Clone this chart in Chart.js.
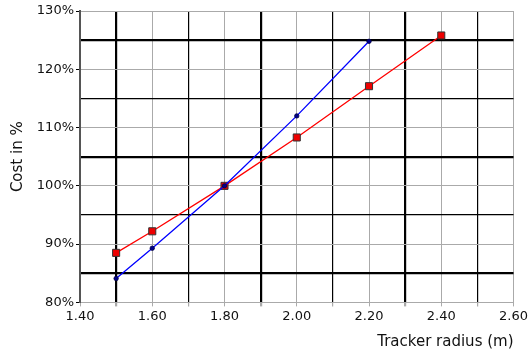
<!DOCTYPE html>
<html>
<head>
<meta charset="utf-8">
<script src="https://cdn.jsdelivr.net/npm/chart.js@4"></script>
<style>
  html, body { margin: 0; padding: 0; background: #fff; }
  #wrap { width: 530px; height: 352px; position: relative; }
</style>
</head>
<body>
<div id="wrap"><canvas id="chart"></canvas></div>
<script>
// data
const radius   = [1.5, 1.6, 1.8, 2.0, 2.2, 2.4];
const costRed  = [88.5, 92.2, 100, 108.3, 117.1, 125.8];
const radiusBlue = [1.5, 1.6, 1.8, 2.0, 2.2];
const costBlue = [84.1, 89.3, 100, 112.0, 124.8];

const FONT = 'DejaVu Sans';

// grid style: gray on labelled ticks, black in between, every other black one thicker
function gridColor(ctx) { return ctx.index % 2 ? '#000' : '#aaa'; }
function gridWidth(ctx) { return ctx.index % 4 === 1 ? 2.2 : (ctx.index % 2 ? 1.2 : 1); }
function tickColor(ctx) { return ctx.index % 2 ? 'rgba(0,0,0,0)' : '#000'; }

new Chart(document.getElementById('chart').getContext('2d'), {
  type: 'line',
  data: {
    datasets: [
      {
        data: radiusBlue.map((x, i) => ({ x, y: costBlue[i] })),
        borderColor: '#0000ff', borderWidth: 1.3,
        pointStyle: 'circle', pointRadius: 2.2,
        pointBackgroundColor: '#00008b', pointBorderColor: '#000040', pointBorderWidth: 0.8,
        tension: 0
      },
      {
        data: radius.map((x, i) => ({ x, y: costRed[i] })),
        borderColor: '#ff0000', borderWidth: 1.3,
        pointStyle: 'rect', pointRadius: 5,
        pointBackgroundColor: '#ee0000', pointBorderColor: '#333', pointBorderWidth: 1,
        tension: 0
      }
    ]
  },
  options: {
    responsive: true, maintainAspectRatio: false, animation: false,
    layout: { padding: { top: 11, right: 12, left: 9, bottom: 1 } },
    plugins: { legend: { display: false }, tooltip: { enabled: false } },
    scales: {
      x: {
        type: 'linear', min: 1.4, max: 2.6,
        ticks: {
          stepSize: 0.1, color: '#111', font: { family: FONT, size: 13 }, padding: 2,
          maxRotation: 0, autoSkip: false,
          callback: (v, i) => i % 2 ? '' : v.toFixed(2)
        },
        grid: { color: gridColor, lineWidth: gridWidth, tickColor: '#aaa', tickLength: 4 },
        border: { display: true, color: '#aaa', width: 1 },
        title: {
          display: true, text: 'Tracker radius (m)', align: 'end', color: '#111',
          font: { family: FONT, size: 15 }, padding: { top: 7, bottom: 0 }
        }
      },
      y: {
        min: 80, max: 130,
        ticks: {
          stepSize: 5, color: '#111', font: { family: FONT, size: 13 }, padding: 2,
          callback: (v, i) => i % 2 ? '' : v + '%'
        },
        grid: { color: gridColor, lineWidth: gridWidth, tickColor: tickColor, tickLength: 4 },
        border: { display: true, color: '#555', width: 2 },
        title: {
          display: true, text: 'Cost in %', color: '#111',
          font: { family: FONT, size: 15 }, padding: { top: 0, bottom: 8 }
        },
        afterFit: s => { s.width = 71; }
      }
    }
  }
});
</script>
</body>
</html>
